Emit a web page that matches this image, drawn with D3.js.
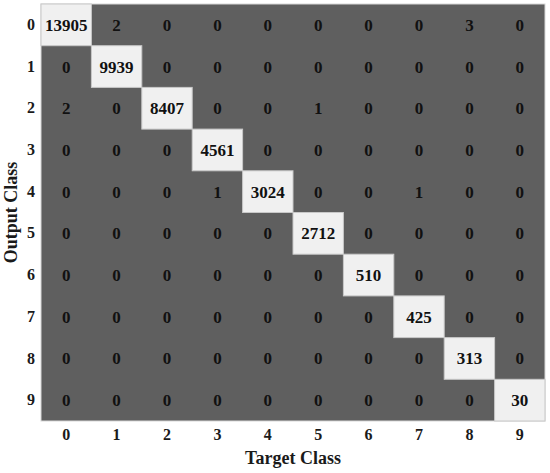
<html lang='en'>

<head>
    <title>Confusion matrix</title>
    <script src="https://d3js.org/d3.v7.min.js" charset="utf-8"></script>
    <style>
        body { margin: 0; background: #fff; }
        text { font-family: "Liberation Serif", "Times New Roman", serif; font-weight: bold; }
    </style>
</head>

<body>
    <script>
        // data
        var classes = ['0', '1', '2', '3', '4', '5', '6', '7', '8', '9'];
        var matrix = [
            [13905, 2, 0, 0, 0, 0, 0, 0, 3, 0],
            [0, 9939, 0, 0, 0, 0, 0, 0, 0, 0],
            [2, 0, 8407, 0, 0, 1, 0, 0, 0, 0],
            [0, 0, 0, 4561, 0, 0, 0, 0, 0, 0],
            [0, 0, 0, 1, 3024, 0, 0, 1, 0, 0],
            [0, 0, 0, 0, 0, 2712, 0, 0, 0, 0],
            [0, 0, 0, 0, 0, 0, 510, 0, 0, 0],
            [0, 0, 0, 0, 0, 0, 0, 425, 0, 0],
            [0, 0, 0, 0, 0, 0, 0, 0, 313, 0],
            [0, 0, 0, 0, 0, 0, 0, 0, 0, 30]
        ];
        var xTitle = 'Target Class', yTitle = 'Output Class';

        // canvas
        var width = 550, height = 473;
        var margin = { top: 4, right: 5, bottom: 52, left: 41 };

        var svg = d3.select('body')
            .append('svg')
            .attr('width', width)
            .attr('height', height);

        var g = svg.append('g').attr('transform', 'translate(' + margin.left + ',' + margin.top + ')');
        var w = width - margin.left - margin.right, h = height - margin.top - margin.bottom;

        var x = d3.scaleBand().domain(classes).range([0, w]);
        var y = d3.scaleBand().domain(classes).range([0, h]);

        var cells = [];
        matrix.forEach(function (row, i) {
            row.forEach(function (v, j) {
                cells.push({ r: classes[i], c: classes[j], v: v, diag: i === j });
            });
        });

        // background
        g.append('rect').attr('width', w).attr('height', h)
            .attr('fill', '#5f5f5f').attr('stroke', '#d8d8d8').attr('stroke-width', 1);

        g.selectAll('rect.cell').data(cells.filter(function (d) { return d.diag; })).enter()
            .append('rect').attr('class', 'cell')
            .attr('x', function (d) { return x(d.c); })
            .attr('y', function (d) { return y(d.r); })
            .attr('width', x.bandwidth())
            .attr('height', y.bandwidth())
            .attr('fill', '#f0f0f0')
            .attr('stroke', '#c8c8c8').attr('stroke-width', 1);

        g.selectAll('text.val').data(cells).enter()
            .append('text').attr('class', 'val')
            .attr('x', function (d) { return x(d.c) + x.bandwidth() / 2; })
            .attr('y', function (d) { return y(d.r) + y.bandwidth() / 2; })
            .attr('text-anchor', 'middle')
            .attr('dy', '0.35em')
            .attr('font-size', 17)
            .attr('fill', '#111')
            .text(function (d) { return d.v; });

        // axes
        var xAxis = g.append('g').attr('transform', 'translate(0,' + h + ')')
            .call(d3.axisBottom(x).tickSize(0).tickPadding(8));
        var yAxis = g.append('g')
            .call(d3.axisLeft(y).tickSize(0).tickPadding(6));
        [xAxis, yAxis].forEach(function (a) {
            a.select('.domain').remove();
            a.selectAll('text').attr('font-size', 16).attr('fill', '#1a1a1a')
                .style('font-family', '"Liberation Serif", serif').style('font-weight', 'bold');
        });

        svg.append('text')
            .attr('x', margin.left + w / 2).attr('y', 464)
            .attr('text-anchor', 'middle').attr('font-size', 18).attr('fill', '#1a1a1a')
            .text(xTitle);
        svg.append('text')
            .attr('transform', 'translate(17,' + (margin.top + h / 2) + ') rotate(-90)')
            .attr('text-anchor', 'middle').attr('font-size', 18).attr('fill', '#1a1a1a')
            .text(yTitle);
    </script>
</body>

</html>
